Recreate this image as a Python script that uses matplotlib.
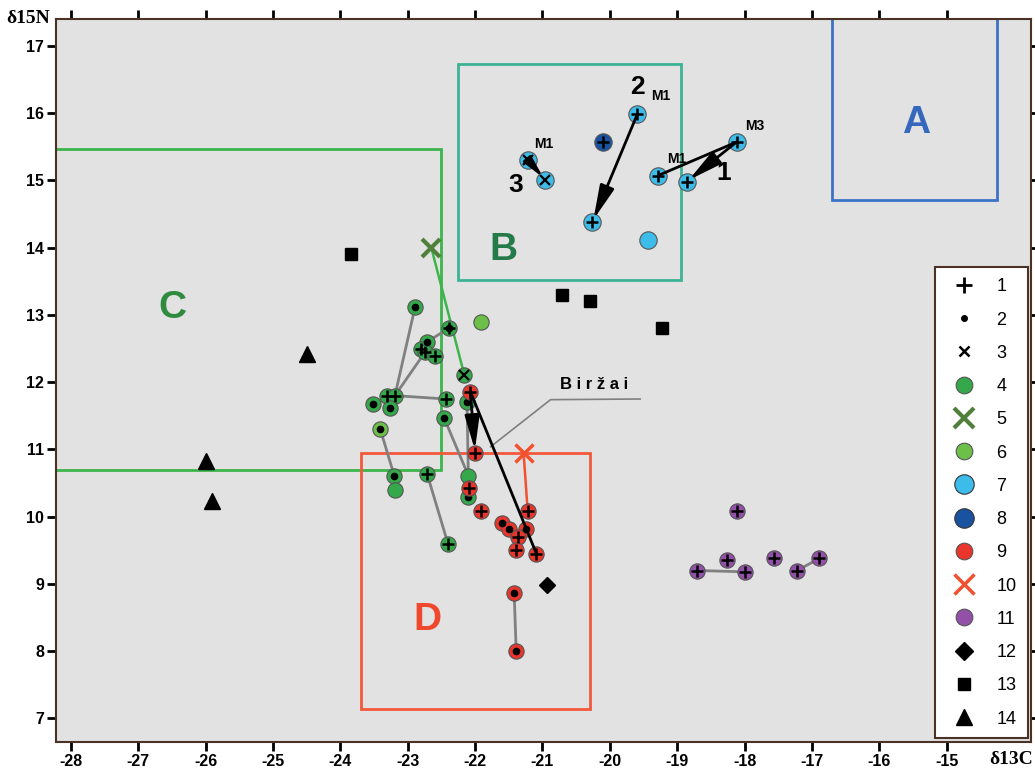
import numpy as np
import matplotlib
matplotlib.use("Agg")
import matplotlib.pyplot as plt
from matplotlib.lines import Line2D
from matplotlib.patches import Rectangle

# ---- data ----
# group 4 (green) + overlay symbol: p=plus, d=dot, x=cross, pd=plus+dot, ''=none
green_x = [-22.89, -22.38, -22.71, -22.81, -22.74, -22.59, -22.16, -23.30, -23.19, -23.51,
           -23.27, -22.43, -22.12, -22.46, -23.20, -23.19, -22.71, -22.40, -22.10, -22.10]
green_y = [13.12, 12.81, 12.60, 12.50, 12.45, 12.39, 12.11, 11.80, 11.80, 11.68,
           11.61, 11.75, 11.70, 11.47, 10.61, 10.39, 10.63, 9.59, 10.61, 10.30]
green_sym = ['d', 'pd', 'd', 'p', 'p', 'p', 'x', 'p', 'p', 'd',
             'd', 'p', 'd', 'd', 'd', '', 'p', 'p', '', 'd']
green_links = [(0, 8), (8, 4), (8, 11), (2, 1), (13, 18), (12, 18), (16, 17)]

# group 6 (light green)
lgreen_x = [-21.91, -23.41]
lgreen_y = [12.90, 11.31]
lgreen_sym = ['', 'd']
lgreen_to_green = (1, 14)

# group 9 (red)
red_x = [-22.07, -22.00, -22.09, -21.91, -21.22, -21.60, -21.49, -21.24, -21.37, -21.39, -21.09, -21.42, -21.39]
red_y = [11.86, 10.95, 10.42, 10.09, 10.09, 9.91, 9.81, 9.82, 9.70, 9.51, 9.45, 8.86, 8.00]
red_sym = ['p', 'p', 'p', 'p', 'p', 'd', 'd', 'd', 'p', 'p', 'p', 'd', 'd']
red_links = [(11, 12)]

# group 7 (light blue)
cyan_x = [-19.59, -20.26, -21.22, -20.96, -19.29, -18.86, -18.12, -19.43]
cyan_y = [15.99, 14.38, 15.31, 15.01, 15.07, 14.98, 15.57, 14.12]
cyan_sym = ['p', 'p', 'x', 'x', 'p', 'p', 'p', '']
cyan_arrows = [(0, 1), (2, 3), (6, 5)]
cyan_links = [(4, 6)]

# group 8 (dark blue)
dblue_x = [-20.10]
dblue_y = [15.57]

# group 11 (purple)
purple_x = [-18.11, -18.26, -18.70, -18.00, -17.56, -17.22, -16.89]
purple_y = [10.09, 9.36, 9.20, 9.18, 9.39, 9.20, 9.38]
purple_links = [(2, 3), (5, 6)]

# group 5 and 10 (big crosses)
cross5_x, cross5_y = [-22.65], [14.00]
cross10_x, cross10_y = [-21.28], [10.95]

# groups 12-14 (black symbols)
diamond_x, diamond_y = [-20.93], [8.98]
square_x = [-23.84, -20.71, -20.29, -19.22]
square_y = [13.91, 13.30, 13.21, 12.81]
tri_x = [-24.49, -25.99, -25.90]
tri_y = [12.42, 10.83, 10.24]

# field boxes: name, x0, x1, y0, y1
boxes = [('A', -16.71, -14.25, 14.71, 17.6),
         ('B', -22.26, -18.95, 13.52, 16.73),
         ('C', -29.0, -22.50, 10.70, 15.46),
         ('D', -23.70, -20.29, 7.14, 10.94)]
box_labels = {'A': (-15.46, 15.86), 'B': (-21.58, 13.97), 'C': (-26.50, 13.11), 'D': (-22.71, 8.47)}

xticks = list(range(-28, -14))
yticks = list(range(7, 18))

# ---- style ----
C4 = '#34a84a'
C6 = '#6cbf48'
C7 = '#3dbce9'
C8 = '#1a52a2'
C9 = '#e9352b'
C10 = '#f3502e'
C11 = '#9350a8'
C5 = '#4f7f3a'
box_col = {'A': '#3d72c6', 'B': '#3cb394', 'C': '#3cb54a', 'D': '#f2583c'}
lab_col = {'A': '#3567bd', 'B': '#247a48', 'C': '#2f8c3e', 'D': '#f0482c'}
GRAY = '#808080'

bold_sans = {'family': 'Liberation Sans', 'weight': 'bold'}

fig = plt.figure(figsize=(10.35, 7.69), dpi=100)
ax = fig.add_axes([0.0541, 0.0351, 0.9420, 0.9402])
ax.set_facecolor('#e2e2e2')
ax.set_xlim(-28.22, -13.75)
ax.set_ylim(6.65, 17.40)


def circles(xs, ys, color, ms=11, z=5):
    ax.plot(xs, ys, 'o', ms=ms, mfc=color, mec='#555555', mew=0.8, ls='none', zorder=z)


def overlays(xs, ys, syms, z=6):
    for x, y, s in zip(xs, ys, syms):
        if 'p' in s:
            ax.plot(x, y, '+', ms=9, mew=1.8, color='black', zorder=z)
        if 'd' in s:
            ax.plot(x, y, 'o', ms=4.5, mfc='black', mec='black', zorder=z)
        if 'x' in s:
            ax.plot(x, y, 'x', ms=7, mew=1.6, color='black', zorder=z)


def links(xs, ys, pairs, color=GRAY, lw=2, z=3):
    for i, j in pairs:
        ax.plot([xs[i], xs[j]], [ys[i], ys[j]], color=color, lw=lw, zorder=z, solid_capstyle='butt')


def arrow(x0, y0, x1, y1, z=7, scale=16):
    ax.annotate('', xy=(x1, y1), xytext=(x0, y0),
                arrowprops=dict(arrowstyle='-|>,head_length=1.3,head_width=0.28', color='black',
                                lw=2, mutation_scale=scale, shrinkA=0, shrinkB=2), zorder=z)


# boxes
for name, x0, x1, y0, y1 in boxes:
    ax.add_patch(Rectangle((x0, y0), x1 - x0, y1 - y0, fill=False, ec=box_col[name], lw=2, zorder=2))
    bx, by = box_labels[name]
    ax.text(bx, by, name, color=lab_col[name], fontsize=28, ha='center', va='center', zorder=2, **bold_sans)

# connecting lines
links(green_x, green_y, green_links)
i, j = lgreen_to_green
ax.plot([lgreen_x[i], green_x[j]], [lgreen_y[i], green_y[j]], color=GRAY, lw=2, zorder=3)
links(red_x, red_y, red_links)
links(purple_x, purple_y, purple_links)
ax.plot([cross5_x[0], green_x[6]], [cross5_y[0], green_y[6]], color='#3cb54a', lw=1.8, zorder=3)
ax.plot([cross10_x[0], red_x[4]], [cross10_y[0], red_y[4]], color=C10, lw=1.8, zorder=3)
links(cyan_x, cyan_y, cyan_links, color='black', lw=2, z=7)

# points
circles(green_x, green_y, C4)
overlays(green_x, green_y, green_sym)
circles(lgreen_x, lgreen_y, C6)
overlays(lgreen_x, lgreen_y, lgreen_sym)
circles(red_x, red_y, C9, z=8)
overlays(red_x, red_y, red_sym, z=9)
circles(cyan_x, cyan_y, C7, ms=12.5)
overlays(cyan_x, cyan_y, cyan_sym)
circles(dblue_x, dblue_y, C8, ms=12.5)
overlays(dblue_x, dblue_y, ['p'])
circles(purple_x, purple_y, C11)
overlays(purple_x, purple_y, ['p'] * len(purple_x))
ax.plot(cross5_x, cross5_y, 'x', ms=13, mew=3, color=C5, zorder=5)
ax.plot(cross10_x, cross10_y, 'x', ms=13, mew=2.5, color=C10, zorder=5)
ax.plot(diamond_x, diamond_y, 'D', ms=8, color='black', zorder=5)
ax.plot(square_x, square_y, 's', ms=8, color='black', zorder=5)
ax.plot(tri_x, tri_y, '^', ms=11, color='black', zorder=5)

# arrows (the short one gets a smaller head)
for i, j in cyan_arrows:
    dpx = np.hypot(cyan_x[i] - cyan_x[j], cyan_y[i] - cyan_y[j])
    arrow(cyan_x[i], cyan_y[i], cyan_x[j], cyan_y[j], scale=10 if dpx < 0.5 else 16)
arrow(red_x[0], red_y[0], red_x[1], red_y[1], z=10)
ax.plot([red_x[0], red_x[10]], [red_y[0], red_y[10]], color='black', lw=2, zorder=10)

# labels near the cyan points
ax.text(-19.59, 16.39, '2', fontsize=19, ha='center', va='center', **bold_sans)
ax.text(-19.25, 16.25, 'M1', fontsize=10, ha='center', va='center', **bold_sans)
ax.text(-20.98, 15.54, 'M1', fontsize=10, ha='center', va='center', **bold_sans)
ax.text(-21.39, 14.93, '3', fontsize=19, ha='center', va='center', **bold_sans)
ax.text(-19.01, 15.32, 'M1', fontsize=10, ha='center', va='center', **bold_sans)
ax.text(-17.85, 15.81, 'M3', fontsize=10, ha='center', va='center', **bold_sans)
ax.text(-18.31, 15.11, '1', fontsize=19, ha='center', va='center', **bold_sans)

# Birzai label with leader line
ax.text(-20.23, 11.97, 'B i r ž a i', fontsize=12, ha='center', va='center', **bold_sans)
ax.plot([-19.55, -20.88, -21.77], [11.75, 11.74, 11.04], color=GRAY, lw=1.2, zorder=4)

# axes styling
ax.set_xticks(xticks)
ax.set_yticks(yticks)
ax.set_xticklabels([str(v) for v in xticks], fontsize=11.5, **bold_sans)
ax.set_yticklabels([str(v) for v in yticks], fontsize=11.5, **bold_sans)
ax.tick_params(axis='both', direction='out', length=6.5, width=2, color='black', pad=2)
ax.tick_params(top=True, right=True, labeltop=False, labelright=False)
for sp in ax.spines.values():
    sp.set_color('#4a3226')
    sp.set_linewidth(1.5)

fig.text(0.027, 0.976, 'δ15N', fontsize=14, fontweight='bold', family='Liberation Serif', ha='center', va='center')
fig.text(0.977, 0.013, 'δ13C', fontsize=14, fontweight='bold', family='Liberation Serif', ha='center', va='center')

# legend
handles = [
    Line2D([], [], ls='none', marker='+', ms=11, mew=2, color='black'),
    Line2D([], [], ls='none', marker='o', ms=4, color='black'),
    Line2D([], [], ls='none', marker='x', ms=7, mew=1.8, color='black'),
    Line2D([], [], ls='none', marker='o', ms=12, mfc=C4, mec='#555555', mew=0.8),
    Line2D([], [], ls='none', marker='x', ms=15, mew=3, color=C5),
    Line2D([], [], ls='none', marker='o', ms=12, mfc=C6, mec='#555555', mew=0.8),
    Line2D([], [], ls='none', marker='o', ms=14, mfc=C7, mec='#333333', mew=0.8),
    Line2D([], [], ls='none', marker='o', ms=14, mfc=C8, mec='#333333', mew=0.8),
    Line2D([], [], ls='none', marker='o', ms=12, mfc=C9, mec='#555555', mew=0.8),
    Line2D([], [], ls='none', marker='x', ms=14, mew=2.5, color=C10),
    Line2D([], [], ls='none', marker='o', ms=12, mfc=C11, mec='#555555', mew=0.8),
    Line2D([], [], ls='none', marker='D', ms=9, color='black'),
    Line2D([], [], ls='none', marker='s', ms=9, color='black'),
    Line2D([], [], ls='none', marker='^', ms=12, color='black'),
]
labels = [str(k) for k in range(1, 15)]
leg = ax.legend(handles, labels, loc='lower right', bbox_to_anchor=(0.9965, 0.005),
                frameon=True, fancybox=False, framealpha=1, edgecolor='#4a3226',
                facecolor='white', prop={'family': 'Liberation Sans', 'size': 13},
                handlelength=2.0, handletextpad=0.8, labelspacing=0.9,
                borderpad=0.6, borderaxespad=0)
leg.get_frame().set_linewidth(1.5)
leg.set_zorder(20)

fig.savefig('out.png', dpi=100, facecolor='white')
